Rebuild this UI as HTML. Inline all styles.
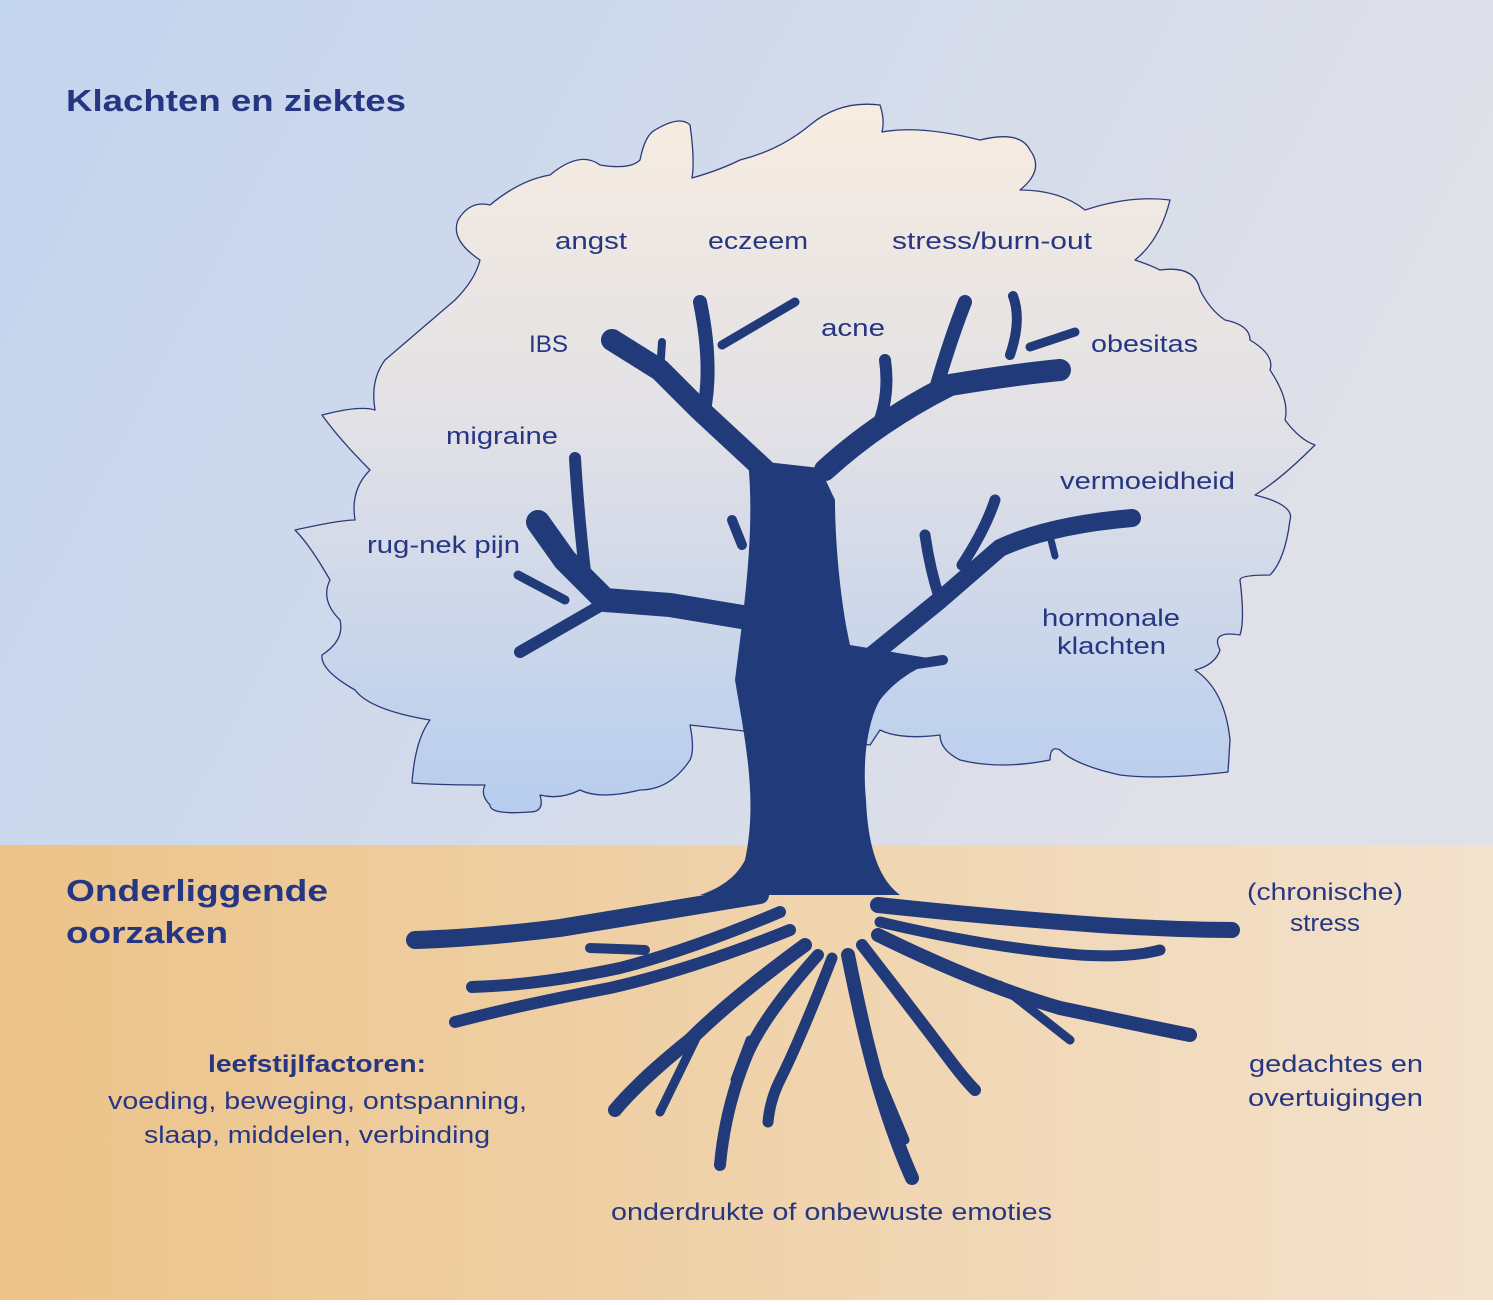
<!DOCTYPE html>
<html><head><meta charset="utf-8"><style>
html,body{margin:0;padding:0}
body{width:1493px;height:1300px;overflow:hidden}
text{font-family:"Liberation Sans",sans-serif;fill:#263683}
</style></head><body>
<svg width="1493" height="1300" viewBox="0 0 1493 1300" xmlns="http://www.w3.org/2000/svg">
<defs>
<linearGradient id="sky" x1="0" y1="0" x2="1" y2="0.3"><stop offset="0" stop-color="#c3d4ee"/><stop offset="1" stop-color="#e0e0e8"/></linearGradient>
<linearGradient id="soil" x1="0" y1="0" x2="1" y2="0"><stop offset="0" stop-color="#ecc388"/><stop offset="1" stop-color="#f3e2cd"/></linearGradient>
<linearGradient id="can" x1="0" y1="0" x2="0" y2="1"><stop offset="0" stop-color="#f7ece0"/><stop offset="0.45" stop-color="#e2e1e6"/><stop offset="1" stop-color="#b7cdee"/></linearGradient>
</defs>
<rect width="1493" height="845" fill="url(#sky)"/>
<rect y="845" width="1493" height="455" fill="url(#soil)"/>
<path fill="url(#can)" stroke="#2a3a7a" stroke-width="1.3" stroke-linejoin="round" d="M412,783 Q415,740 430,720 Q370,710 355,690 Q320,670 322,655 Q345,640 340,620 Q320,600 330,580 Q310,545 295,530 Q340,520 355,520 Q350,490 370,470 Q340,440 322,415 Q360,405 375,410 Q370,380 385,360 Q420,330 455,300 Q475,280 480,260 Q450,240 458,220 Q470,200 490,205 Q520,180 550,175 Q580,150 600,165 Q630,170 640,160 Q645,135 655,130 Q680,115 690,125 Q695,160 692,178 Q720,170 740,160 Q780,150 810,125 Q840,100 880,105 Q885,120 882,132 Q920,125 980,140 Q1020,130 1030,150 Q1045,170 1020,190 Q1060,190 1085,210 Q1130,195 1170,200 Q1160,240 1135,260 Q1150,265 1160,270 Q1195,265 1200,290 Q1210,310 1225,320 Q1250,325 1250,340 Q1275,355 1270,370 Q1290,400 1285,420 Q1300,440 1315,445 Q1280,480 1255,495 Q1295,505 1290,520 Q1285,560 1270,575 Q1240,575 1240,580 Q1245,620 1240,635 Q1210,630 1220,650 Q1215,665 1195,670 Q1225,690 1230,740 L1228,772 Q1160,780 1120,775 Q1075,765 1060,750 Q1050,745 1050,760 Q1000,770 960,760 Q940,750 940,735 Q900,740 880,730 L870,745 L690,725 Q695,750 690,760 Q670,790 640,790 Q600,800 580,790 Q560,800 540,795 Q545,812 530,812 Q490,815 490,805 Q480,795 485,785 Q440,785 412,783 Z"/>
<g fill="#213a7a" stroke="#213a7a" stroke-linecap="round" stroke-linejoin="round">
<path stroke="none" d="M748,460 C755,530 745,600 735,680 C745,740 758,800 745,860 C735,880 715,890 700,895 L900,895 C880,880 868,850 866,800 C862,760 868,720 880,700 C895,680 920,665 940,660 L850,645 C840,600 835,540 835,500 L820,468 Z"/>
<g fill="none">
<path stroke-width="22" d="M770,475 L700,410 L660,370 L612,340"/>
<path stroke-width="14" d="M705,405 Q712,360 700,302"/>
<path stroke-width="9" d="M722,345 L795,302"/>
<path stroke-width="8" d="M660,372 L662,342"/>
<path stroke-width="22" d="M825,470 Q880,420 950,385 Q1010,375 1060,370"/>
<path stroke-width="12" d="M878,425 Q890,395 885,360"/>
<path stroke-width="14" d="M935,392 Q950,340 965,302"/>
<path stroke-width="10" d="M1010,355 Q1022,320 1013,296"/>
<path stroke-width="9" d="M1030,347 L1075,332"/>
<path stroke-width="24" d="M760,620 L670,605 L605,600 L565,560 L538,522"/>
<path stroke-width="12" d="M605,603 L520,652"/>
<path stroke-width="12" d="M585,572 Q578,510 575,458"/>
<path stroke-width="9" d="M565,600 L518,575"/>
<path stroke-width="18" d="M860,665 L940,600 L1000,548 Q1050,525 1132,518"/>
<path stroke-width="11" d="M940,600 Q930,570 925,535"/>
<path stroke-width="11" d="M962,565 Q985,530 995,500"/>
<path stroke-width="10" d="M890,668 L943,660"/>
<path stroke-width="7" d="M1048,528 L1055,556"/>
<path stroke-width="10" d="M742,545 L732,520"/>
<path stroke-width="18" d="M760,895 Q640,915 560,928 Q480,938 415,940"/>
<path stroke-width="12" d="M780,912 Q690,950 620,968 Q540,985 472,987"/>
<path stroke-width="12" d="M790,930 Q690,970 610,988 Q520,1005 455,1022"/>
<path stroke-width="10" d="M645,950 L590,948"/>
<path stroke-width="14" d="M805,945 Q730,1000 690,1040 Q640,1080 615,1110"/>
<path stroke-width="9" d="M700,1030 L660,1112"/>
<path stroke-width="12" d="M818,955 Q760,1020 745,1060 Q725,1110 720,1165"/>
<path stroke-width="9" d="M750,1040 L735,1080"/>
<path stroke-width="11" d="M832,958 Q800,1040 780,1080 Q770,1100 768,1122"/>
<path stroke-width="14" d="M848,955 Q865,1040 880,1090 Q895,1140 912,1178"/>
<path stroke-width="9" d="M880,1080 L905,1140"/>
<path stroke-width="12" d="M862,945 Q920,1020 950,1060 Q965,1080 975,1090"/>
<path stroke-width="14" d="M878,935 Q980,985 1060,1008 Q1140,1025 1190,1035"/>
<path stroke-width="9" d="M1000,985 L1070,1040"/>
<path stroke-width="16" d="M878,905 Q1000,918 1100,925 Q1180,930 1232,930"/>
<path stroke-width="11" d="M880,922 Q990,948 1080,955 Q1130,958 1160,950"/>
</g>
</g>
<g font-size="24">
<text x="66" y="111" font-size="31" font-weight="bold" textLength="340" lengthAdjust="spacingAndGlyphs">Klachten en ziektes</text>
<text x="66" y="901" font-size="31" font-weight="bold" textLength="262" lengthAdjust="spacingAndGlyphs">Onderliggende</text>
<text x="66" y="943" font-size="31" font-weight="bold" textLength="162" lengthAdjust="spacingAndGlyphs">oorzaken</text>
<text x="555" y="249" textLength="72" lengthAdjust="spacingAndGlyphs">angst</text>
<text x="708" y="249" textLength="100" lengthAdjust="spacingAndGlyphs">eczeem</text>
<text x="892" y="249" textLength="200" lengthAdjust="spacingAndGlyphs">stress/burn-out</text>
<text x="529" y="352" textLength="39" lengthAdjust="spacingAndGlyphs">IBS</text>
<text x="821" y="336" textLength="64" lengthAdjust="spacingAndGlyphs">acne</text>
<text x="1091" y="352" textLength="107" lengthAdjust="spacingAndGlyphs">obesitas</text>
<text x="446" y="444" textLength="112" lengthAdjust="spacingAndGlyphs">migraine</text>
<text x="1060" y="489" textLength="175" lengthAdjust="spacingAndGlyphs">vermoeidheid</text>
<text x="367" y="553" textLength="153" lengthAdjust="spacingAndGlyphs">rug-nek pijn</text>
<text x="1042" y="626" textLength="138" lengthAdjust="spacingAndGlyphs">hormonale</text>
<text x="1057" y="654" textLength="109" lengthAdjust="spacingAndGlyphs">klachten</text>
<text x="1247" y="900" textLength="156" lengthAdjust="spacingAndGlyphs">(chronische)</text>
<text x="1290" y="931" textLength="70" lengthAdjust="spacingAndGlyphs">stress</text>
<text x="1249" y="1072" textLength="174" lengthAdjust="spacingAndGlyphs">gedachtes en</text>
<text x="1248" y="1106" textLength="175" lengthAdjust="spacingAndGlyphs">overtuigingen</text>
<text x="208" y="1072" font-weight="bold" textLength="218" lengthAdjust="spacingAndGlyphs">leefstijlfactoren:</text>
<text x="108" y="1109" textLength="419" lengthAdjust="spacingAndGlyphs">voeding, beweging, ontspanning,</text>
<text x="144" y="1143" textLength="346" lengthAdjust="spacingAndGlyphs">slaap, middelen, verbinding</text>
<text x="611" y="1220" textLength="441" lengthAdjust="spacingAndGlyphs">onderdrukte of onbewuste emoties</text>
</g>
</svg>
</body></html>
